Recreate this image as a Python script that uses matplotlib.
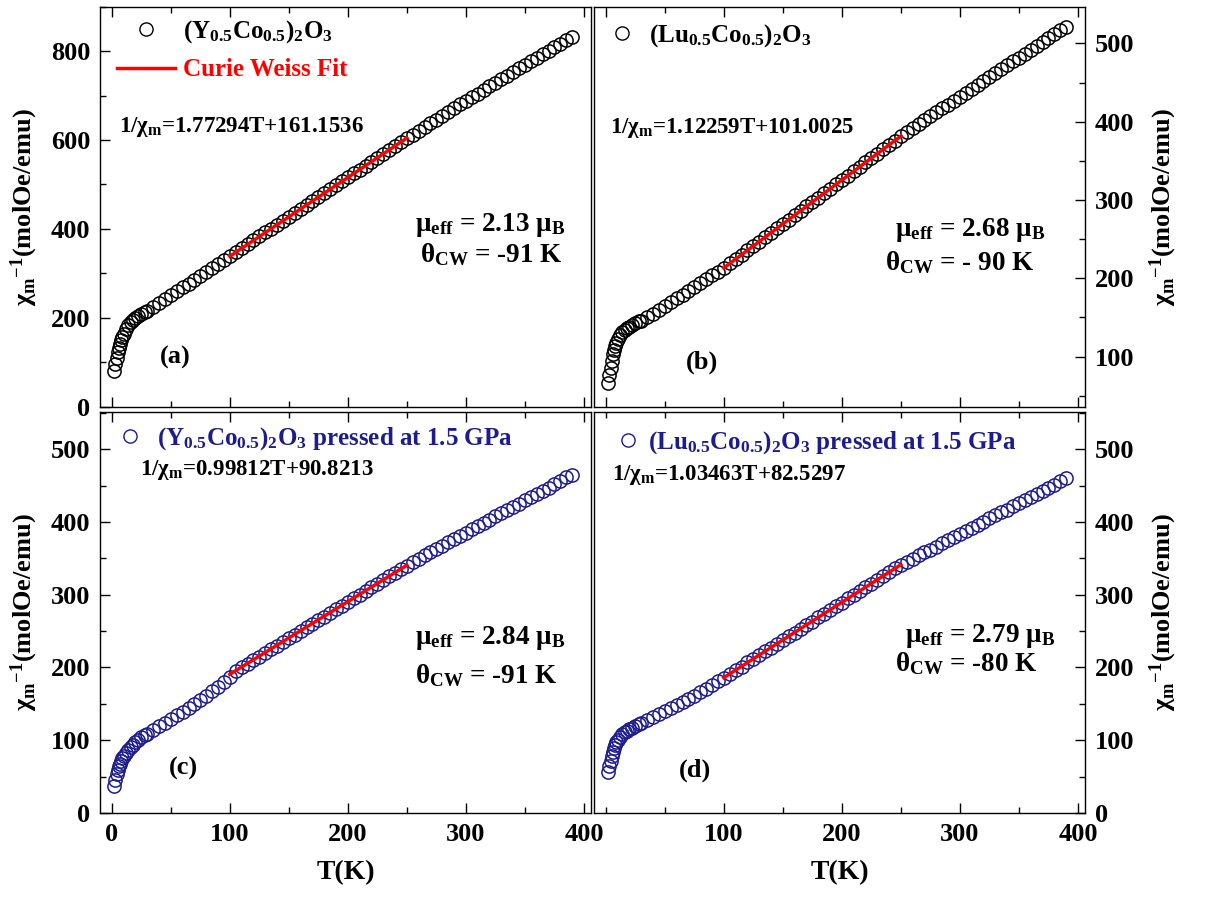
import matplotlib
matplotlib.use('Agg')
import matplotlib.pyplot as plt
from matplotlib.lines import Line2D
from matplotlib.ticker import MultipleLocator
import numpy as np

plt.rcParams['font.family'] = 'Liberation Serif'
plt.rcParams['font.weight'] = 'bold'
plt.rcParams['axes.labelweight'] = 'bold'
plt.rcParams['mathtext.fontset'] = 'custom'
plt.rcParams['mathtext.rm'] = 'Liberation Serif:bold'
plt.rcParams['mathtext.it'] = 'Liberation Serif:bold'
plt.rcParams['mathtext.bf'] = 'Liberation Serif:bold'
plt.rcParams['mathtext.default'] = 'rm'

# temperature grid (K), shared by the four measurements
temps = [2, 3, 4, 5, 6, 7, 8, 9, 10, 12, 14, 16, 18, 20, 22, 25, 28, 30,
         35, 40, 45, 50, 55, 60, 65, 70, 75, 80, 85, 90, 95, 100,
         105, 110, 115, 120, 125, 130, 135, 140, 145, 150, 155, 160, 165, 170, 175,
         180, 185, 190, 195, 200, 205, 210, 215, 220, 225, 230, 235, 240, 245, 250,
         255, 260, 265, 270, 275, 280, 285, 290, 295, 300, 305, 310, 315, 320, 325,
         330, 335, 340, 345, 350, 355, 360, 365, 370, 375, 380, 385, 390]

# 1/chi_m (mol Oe/emu)
chi_y = [80, 95, 110, 122, 133, 142, 150, 157, 163, 174, 183, 190, 196, 200, 204, 208, 212, 215,
         224, 233, 242, 251, 260, 269, 277, 285, 294, 302, 311, 320, 329, 338,
         347, 356, 365, 374, 383, 392, 400, 409, 418, 427, 436, 445, 454, 463, 471,
         480, 489, 498, 507, 516, 525, 533, 542, 551, 560, 569, 578, 587, 595, 604,
         612, 621, 629, 638, 646, 655, 663, 671, 680, 688, 696, 704, 713, 721, 729,
         737, 745, 753, 761, 769, 777, 785, 793, 801, 809, 817, 825, 832]
chi_lu = [66, 76, 86, 95, 103, 109, 114, 118, 122, 127, 131, 134, 136, 138, 140, 143, 145, 146,
          151, 155, 160, 165, 170, 175, 179, 184, 189, 194, 199, 204, 208, 213,
          219, 225, 230, 236, 241, 247, 253, 258, 264, 269, 275, 281, 286, 292, 297,
          303, 309, 314, 320, 326, 331, 337, 342, 348, 354, 359, 365, 370, 376, 382,
          387, 392, 397, 402, 407, 412, 417, 422, 427, 432, 437, 442, 447, 452, 457,
          462, 467, 472, 477, 482, 487, 492, 497, 502, 507, 512, 517, 521]
chi_y_p = [37, 45, 53, 59, 64, 68, 72, 75, 78, 83, 87, 91, 94, 97, 100, 104, 107, 109,
           114, 119, 124, 129, 134, 139, 144, 150, 155, 161, 167, 173, 180, 187,
           195, 200, 205, 210, 215, 220, 225, 230, 235, 240, 245, 250, 255, 260, 265,
           270, 275, 280, 285, 290, 295, 300, 305, 310, 315, 320, 325, 330, 335, 340,
           345, 349, 354, 358, 363, 367, 372, 376, 381, 385, 390, 394, 399, 403, 408,
           412, 416, 421, 425, 430, 434, 439, 443, 447, 452, 456, 461, 465]
chi_lu_p = [56, 64, 71, 78, 84, 89, 93, 97, 100, 105, 108, 111, 113, 115, 117, 120, 122, 124,
            128, 132, 136, 140, 144, 148, 152, 156, 161, 166, 171, 176, 181, 186,
            191, 196, 201, 207, 212, 217, 222, 227, 232, 238, 243, 248, 253, 258, 263,
            269, 274, 279, 284, 289, 295, 300, 305, 310, 315, 320, 326, 331, 336, 341,
            345, 349, 354, 358, 362, 366, 371, 375, 379, 383, 388, 392, 396, 400, 405,
            409, 413, 417, 422, 426, 430, 434, 439, 443, 447, 451, 456, 460]

# Curie-Weiss fits 1/chi = a*T + b over 100-250 K
fit_range = [100, 250]
fit_slope = [1.77294, 1.12259, 0.99812, 1.03463]
fit_icept = [161.1536, 101.0025, 90.8213, 82.5297]

names = ['(Y$_{0.5}$Co$_{0.5}$)$_2$O$_3$',
         '(Lu$_{0.5}$Co$_{0.5}$)$_2$O$_3$',
         '(Y$_{0.5}$Co$_{0.5}$)$_2$O$_3$ pressed at 1.5 GPa',
         '(Lu$_{0.5}$Co$_{0.5}$)$_2$O$_3$ pressed at 1.5 GPa']
mu_eff = ['2.13', '2.68', '2.84', '2.79']
theta_cw = ['-91', '- 90', '-91', '-80']
tags = ['(a)', '(b)', '(c)', '(d)']

navy = '#1c1c8c'
fig = plt.figure(figsize=(12.05, 8.99), dpi=100)

W, H = 1205.0, 899.0
boxes = [(100, 6.7, 491, 400), (594, 6.7, 491, 400),
         (100, 412, 491, 401), (594, 412, 491, 401)]
series = [chi_y, chi_lu, chi_y_p, chi_lu_p]
colors = ['black', 'black', navy, navy]
ylims = [(0, 900), (36, 547), (0, 551), (0, 551)]
ymaj = [200, 100, 100, 100]
xlim = (-10, 406)

# placement in axes fraction: legend anchor, equation, mu, theta, tag
leg_pos = [(0.035, 0.972), (0.018, 0.962), (0.022, 0.968), (0.037, 0.958)]
leg_hl = [2.3, 1.5, 1.5, 1.3]
leg_tp = [0.35, 0.35, 0.35, 0.15]
eq_pos = [(0.039, 0.70), (0.033, 0.697), (0.081, 0.855), (0.037, 0.843)]
mu_pos = [(0.641, 0.454), (0.613, 0.441), (0.641, 0.436), (0.633, 0.441)]
th_pos = [(0.652, 0.379), (0.593, 0.359), (0.641, 0.342), (0.613, 0.372)]
tag_pos = [(0.153, 0.122), (0.220, 0.112), (0.169, 0.112), (0.206, 0.107)]

for i in range(4):
    x0, y0, w, h = boxes[i]
    ax = fig.add_axes([x0 / W, 1 - (y0 + h) / H, w / W, h / H])
    c = colors[i]
    ax.plot(temps, series[i], 'o', ms=9.5, mfc='none', mec=c, mew=1.1, ls='none')
    ft = np.array(fit_range)
    ax.plot(ft, fit_slope[i] * ft + fit_icept[i], color='red', lw=2.5)

    ax.set_xlim(*xlim)
    ax.set_ylim(*ylims[i])
    ax.xaxis.set_major_locator(MultipleLocator(100))
    ax.xaxis.set_minor_locator(MultipleLocator(50))
    ax.yaxis.set_major_locator(MultipleLocator(ymaj[i]))
    ax.yaxis.set_minor_locator(MultipleLocator(ymaj[i] / 2))
    right = (i % 2 == 1)
    bottom = (i >= 2)
    ax.tick_params(which='both', direction='in', top=True, bottom=True,
                   left=not right, right=right, labelleft=not right, labelright=right,
                   labelbottom=bottom, labelsize=19, pad=7, width=1.0)
    ax.tick_params(which='major', length=7)
    ax.tick_params(which='minor', length=4)
    for s in ax.spines.values():
        s.set_linewidth(1.0)
    if right:
        ax.yaxis.set_label_position('right')
    ax.set_ylabel('χ$_{m}$$^{-1}$(molOe/emu)', fontsize=19,
                  labelpad=(10 if right else 8))
    if bottom:
        ax.set_xlabel('T(K)', fontsize=20, labelpad=10)
        if right:
            ax.set_xticks([100, 200, 300, 400])
        else:
            ax.set_xticks([0, 100, 200, 300, 400])

    handles = [Line2D([], [], marker='o', ls='none', ms=9.5, mfc='none', mec=c, mew=1.0)]
    labels = [names[i]]
    if i == 0:
        handles.append(Line2D([], [], color='red', lw=2.5))
        labels.append('Curie Weiss Fit')
    leg = ax.legend(handles, labels, loc='upper left', bbox_to_anchor=leg_pos[i],
                    frameon=False,
                    prop={'family': 'Liberation Serif', 'weight': 'bold', 'size': 18},
                    handlelength=leg_hl[i], handletextpad=leg_tp[i], labelspacing=0.55,
                    borderaxespad=0.0, borderpad=0.0)
    for j, t in enumerate(leg.get_texts()):
        t.set_color('red' if j == 1 else c)

    ax.text(eq_pos[i][0], eq_pos[i][1], '1/χ$_{m}$=%sT+%s' % (fit_slope[i], fit_icept[i]),
            transform=ax.transAxes, fontsize=16.5, va='center', ha='left', color='black')
    ax.text(mu_pos[i][0], mu_pos[i][1], 'μ$_{eff}$ = %s μ$_{B}$' % mu_eff[i],
            transform=ax.transAxes, fontsize=19.5, va='center', ha='left', color='black')
    ax.text(th_pos[i][0], th_pos[i][1], 'θ$_{CW}$ = %s K' % theta_cw[i],
            transform=ax.transAxes, fontsize=19.5, va='center', ha='left', color='black')
    ax.text(tag_pos[i][0], tag_pos[i][1], tags[i], transform=ax.transAxes,
            fontsize=19, va='center', ha='center', color='black')

fig.savefig('out.png', dpi=100)
